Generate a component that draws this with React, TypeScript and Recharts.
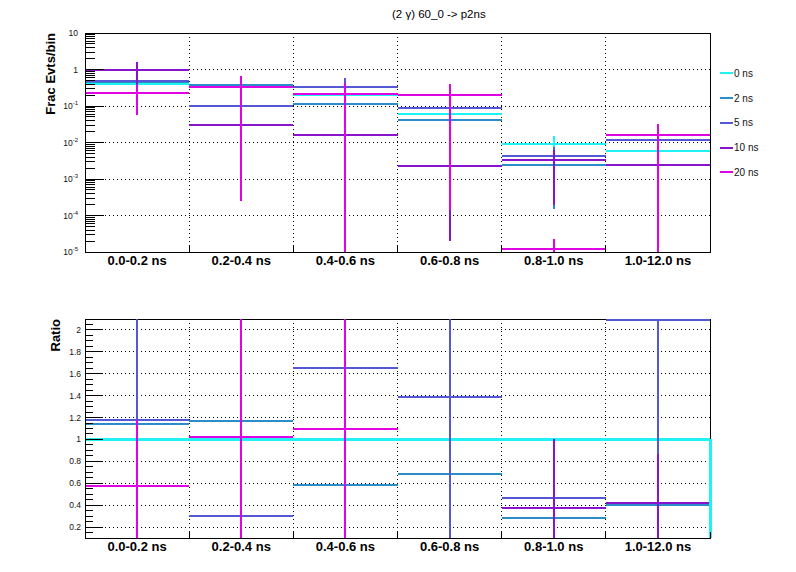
import React from "react";
import {
  ComposedChart,
  Scatter,
  ErrorBar,
  XAxis,
  YAxis,
  CartesianGrid,
  ReferenceArea,
  ReferenceLine,
  Legend,
} from "recharts";

const bins = ["0.0-0.2 ns", "0.2-0.4 ns", "0.4-0.6 ns", "0.6-0.8 ns", "0.8-1.0 ns", "1.0-12.0 ns"];
const seriesNames = ["0 ns", "2 ns", "5 ns", "10 ns", "20 ns"];
const seriesColors = ["#1ef2f2", "#2b8cca", "#5558d4", "#8a14cc", "#e004e4"];

// top pad: fraction of events per bin
const frac0 = [0.4, 0.33, 0.195, 0.0615, 0.0091, 0.006];
const frac2 = [0.46, 0.385, 0.116, 0.042, 0.00247, 0.00235];
const frac5 = [0.475, 0.1, 0.33, 0.09, 0.00436, 0.0118];
const frac10 = [0.95, 0.03, 0.0165, 0.00232, 0.0033, 0.00248];
const frac20 = [0.228, 0.34, 0.213, 0.2, 0.0000123, 0.0164];

const fracErr0 = [0.05, 0.04, 0.03, 0.015, 0.006, 0.002];
const fracErr2 = [0.06, 0.05, 0.03, 0.02, 0.00232, 0.0012];
const fracErr5 = [0.08, 0.05, 0.245, 0.04, 0.003, 0.004];
const fracErr10 = [0.7, 0.02, 0.012, 0.0023, 0.0031, 0.0015];
const fracErr20 = [0.17, 0.33975, 0.215, 0.19986, 0.0000107, 0.0166];

// bottom pad: ratio to 0 ns
const ratio0 = [1, 1, 1, 1, 1, 1];
const ratio2 = [1.14, 1.17, 0.585, 0.686, 0.28, 0.405];
const ratio5 = [1.18, 0.298, 1.653, 1.39, 0.463, 2.09];
const ratio10 = [2.38, 0.09, 0.085, 0.038, 0.371, 0.42];
const ratio20 = [0.576, 1.024, 1.098, 3.25, 0.0014, 2.73];

const ratioErr0 = [0, 0, 0, 0, 0, 0];
const ratioErr2 = [0.3, 0.3, 0.3, 0.4, 0.3, 0.3];
const ratioErr5 = [1.2, 0.25, 1.0, 1.4, 0.35, 1.22];
const ratioErr10 = [0.25, 0.05, 0.05, 0.03, 0.63, 0.45];
const ratioErr20 = [0.6, 1.2, 1.2, 1.0, 0.001, 0.5];

const fracMajorTicks = [1e-5, 1e-4, 1e-3, 1e-2, 1e-1, 1, 10];
const ratioMajorTicks = [0.2, 0.4, 0.6, 0.8, 1, 1.2, 1.4, 1.6, 1.8, 2];
const FRAC_DOMAIN = [1e-5, 10];
const RATIO_DOMAIN = [0.1, 2.1];

const FONT = "'Liberation Sans', Arial, Helvetica, sans-serif";

// minor ticks 2..9 in each decade
const fracTicks: number[] = [];
fracMajorTicks.slice(0, -1).forEach((d) => {
  for (let m = 1; m < 10; m++) fracTicks.push(m * d);
});
fracTicks.push(10);
const ratioTicks = Array.from({ length: 41 }, (_, i) => +(0.1 + i * 0.05).toFixed(2));
const xTicks = Array.from({ length: 13 }, (_, i) => i / 2);
const binEdges = [1, 2, 3, 4, 5];

// one row per bin; error bars are cut at the pad frame, points outside it are dropped
function toRows(vals: number[], errs: number[], domain: number[]) {
  const [lo, hi] = domain;
  return vals
    .map((v, i) => ({
      x: i + 0.5,
      y: v,
      ex: 0.5,
      ey: [Math.min(errs[i], v - lo), Math.min(errs[i], hi - v)],
    }))
    .filter((r) => r.y >= lo && r.y <= hi);
}

const fracRows = [
  toRows(frac0, fracErr0, FRAC_DOMAIN),
  toRows(frac2, fracErr2, FRAC_DOMAIN),
  toRows(frac5, fracErr5, FRAC_DOMAIN),
  toRows(frac10, fracErr10, FRAC_DOMAIN),
  toRows(frac20, fracErr20, FRAC_DOMAIN),
];
const ratioRows = [
  toRows(ratio0, ratioErr0, RATIO_DOMAIN),
  toRows(ratio2, ratioErr2, RATIO_DOMAIN),
  toRows(ratio5, ratioErr5, RATIO_DOMAIN),
  toRows(ratio10, ratioErr10, RATIO_DOMAIN),
  toRows(ratio20, ratioErr20, RATIO_DOMAIN),
];

const EmptyShape = () => <g />;

function logLabel(v: number) {
  const e = Math.round(Math.log10(v));
  if (e === 0) return "1";
  if (e === 1) return "10";
  return (
    <>
      <tspan>10</tspan>
      <tspan dy={-4} fontSize={6}>{String(e)}</tspan>
    </>
  );
}

function makeYTick(majors: number[], fmt: (v: number) => React.ReactNode, majLen: number, minLen: number, gap: number) {
  return (props: any) => {
    const { x, y, payload } = props;
    const v = payload.value;
    const major = majors.some((t) => Math.abs(t - v) <= t * 1e-6);
    return (
      <g>
        <line x1={x + gap} x2={x + gap + (major ? majLen : minLen)} y1={y} y2={y} stroke="#000" />
        {major && (
          <text x={x} y={y} dy={3} textAnchor="end" fontSize={8.5} fontFamily={FONT} fill="#111">
            {fmt(v)}
          </text>
        )}
      </g>
    );
  };
}

const fracTick = makeYTick(fracMajorTicks, logLabel, 19, 10, 7);
const ratioTick = makeYTick(ratioMajorTicks, (v) => String(v), 18, 8, 4);

function XTick(props: any) {
  const { x, y, payload } = props;
  const v = payload.value;
  if (Number.isInteger(v)) {
    return <line x1={x} x2={x} y1={y - 4} y2={y - 10} stroke="#000" />;
  }
  return (
    <text x={x} y={y} dy="0.71em" textAnchor="middle" fontSize={13} fontWeight="bold" fontFamily={FONT} fill="#000">
      {bins[Math.floor(v)]}
    </text>
  );
}

function LegendContent(props: any) {
  const payload = [...(props.payload || [])].sort(
    (a: any, b: any) => seriesNames.indexOf(a.value) - seriesNames.indexOf(b.value)
  );
  return (
    <div style={{ fontFamily: FONT, fontSize: 10, color: "#111" }}>
      {payload.map((e: any) => (
        <div key={e.value} style={{ display: "flex", alignItems: "center", height: 24.75 }}>
          <span style={{ display: "inline-block", width: 13, height: 2, background: e.color, marginRight: 1 }} />
          <span>{e.value}</span>
        </div>
      ))}
    </div>
  );
}

function renderSeries(rows: any[][], hWidths: number[]) {
  return rows.map((data, s) => (
    <Scatter
      key={seriesNames[s]}
      name={seriesNames[s]}
      data={data}
      fill={seriesColors[s]}
      shape={EmptyShape}
      isAnimationActive={false}
    >
      <ErrorBar dataKey="ey" direction="y" width={0} stroke={seriesColors[s]} strokeWidth={2} isAnimationActive={false} />
      <ErrorBar dataKey="ex" direction="x" width={0} stroke={seriesColors[s]} strokeWidth={hWidths[s]} isAnimationActive={false} />
    </Scatter>
  ));
}

export default function App() {
  return (
    <div
      style={{
        position: "absolute",
        left: 0,
        top: 0,
        width: 796,
        height: 572,
        background: "#fff",
        shapeRendering: "crispEdges",
      } as React.CSSProperties}
    >
      <div style={{ position: "absolute", left: 0, top: 0 }}>
        <ComposedChart width={796} height={286} margin={{ top: 33, right: 86, bottom: 4, left: 0 }}>
          <CartesianGrid
            stroke="#000"
            strokeDasharray="1 3"
            horizontalValues={fracMajorTicks.slice(1, -1)}
            verticalValues={binEdges}
          />
          <XAxis
            type="number"
            dataKey="x"
            domain={[0, bins.length]}
            allowDataOverflow
            ticks={xTicks}
            interval={0}
            tickSize={0}
            tickMargin={4}
            tickLine={false}
            axisLine={{ stroke: "#000" }}
            tick={(p: any) => <XTick {...p} />}
            height={30}
          />
          <YAxis
            type="number"
            dataKey="y"
            scale="log"
            domain={FRAC_DOMAIN}
            allowDataOverflow
            ticks={fracTicks}
            interval={0}
            tickSize={0}
            tickMargin={7}
            tickLine={false}
            axisLine={{ stroke: "#000" }}
            tick={fracTick}
            width={85}
          />
          <ReferenceArea x1={0} x2={bins.length} y1={FRAC_DOMAIN[0]} y2={FRAC_DOMAIN[1]} fill="none" fillOpacity={0} stroke="#000" />
          {renderSeries(fracRows, [2, 2, 2, 2, 2])}
          <Legend
            layout="vertical"
            align="center"
            verticalAlign="middle"
            wrapperStyle={{ left: 720, top: 61, width: 60 }}
            content={LegendContent}
          />
        </ComposedChart>
      </div>
      <div style={{ position: "absolute", left: 0, top: 286 }}>
        <ComposedChart width={796} height={286} margin={{ top: 33, right: 86, bottom: 4, left: 0 }}>
          <CartesianGrid
            stroke="#000"
            strokeDasharray="1 3"
            horizontalValues={ratioMajorTicks}
            verticalValues={binEdges}
          />
          <XAxis
            type="number"
            dataKey="x"
            domain={[0, bins.length]}
            allowDataOverflow
            ticks={xTicks}
            interval={0}
            tickSize={0}
            tickMargin={4}
            tickLine={false}
            axisLine={{ stroke: "#000" }}
            tick={(p: any) => <XTick {...p} />}
            height={30}
          />
          <YAxis
            type="number"
            dataKey="y"
            domain={RATIO_DOMAIN}
            allowDataOverflow
            ticks={ratioTicks}
            interval={0}
            tickSize={0}
            tickMargin={4}
            tickLine={false}
            axisLine={{ stroke: "#000" }}
            tick={ratioTick}
            width={85}
          />
          <ReferenceArea x1={0} x2={bins.length} y1={RATIO_DOMAIN[0]} y2={RATIO_DOMAIN[1]} fill="none" fillOpacity={0} stroke="#000" />
          {renderSeries(ratioRows, [3, 2, 2, 2, 2])}
          <ReferenceLine
            segment={[
              { x: bins.length, y: ratio0[ratio0.length - 1] },
              { x: bins.length, y: RATIO_DOMAIN[0] },
            ]}
            stroke={seriesColors[0]}
            strokeWidth={3}
          />
        </ComposedChart>
      </div>
      <svg width={796} height={572} style={{ position: "absolute", left: 0, top: 0, pointerEvents: "none" }}>
        <text x={392} y={17.5} fontSize={11.5} fontFamily={FONT} fill="#000">
          (2 γ) 60_0 -&gt; p2ns
        </text>
        <text transform="translate(55,33) rotate(-90)" textAnchor="end" fontSize={13} fontWeight="bold" fontFamily={FONT} fill="#000">
          Frac Evts/bin
        </text>
        <text transform="translate(60,319) rotate(-90)" textAnchor="end" fontSize={13} fontWeight="bold" fontFamily={FONT} fill="#000">
          Ratio
        </text>
      </svg>
    </div>
  );
}
